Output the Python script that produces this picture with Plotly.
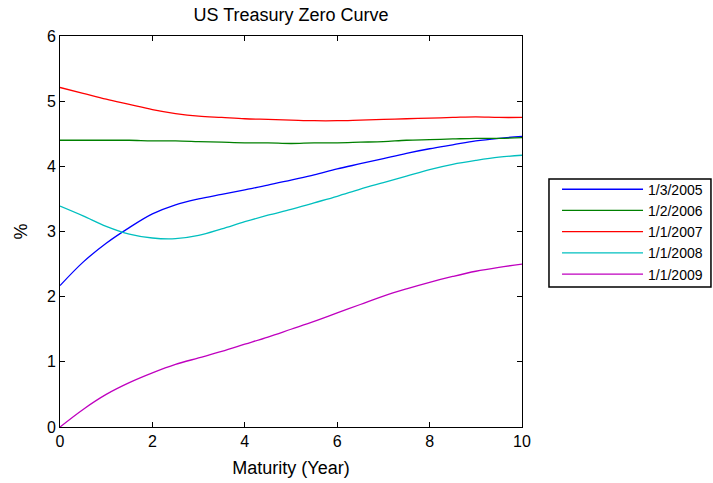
import plotly.graph_objects as go

# Maturities (years) and zero rates (%) for each curve date
maturity = [0, 0.5, 1, 1.5, 2, 2.5, 3, 3.5, 4, 4.5, 5,
            5.5, 6, 6.5, 7, 7.5, 8, 8.5, 9, 9.5, 10]

rates_2005 = [2.17, 2.53, 2.82, 3.06, 3.27, 3.41, 3.50, 3.57, 3.64, 3.71, 3.79,
              3.87, 3.96, 4.04, 4.12, 4.20, 4.27, 4.33, 4.39, 4.43, 4.46]
rates_2006 = [4.40, 4.40, 4.40, 4.40, 4.39, 4.39, 4.38, 4.37, 4.36, 4.36, 4.35,
              4.36, 4.36, 4.37, 4.38, 4.40, 4.41, 4.42, 4.43, 4.43, 4.44]
rates_2007 = [5.21, 5.12, 5.03, 4.95, 4.87, 4.81, 4.77, 4.75, 4.73, 4.72, 4.71,
              4.70, 4.70, 4.71, 4.72, 4.73, 4.74, 4.75, 4.76, 4.75, 4.75]
rates_2008 = [3.39, 3.24, 3.08, 2.96, 2.90, 2.89, 2.94, 3.04, 3.15, 3.25, 3.34,
              3.44, 3.54, 3.65, 3.75, 3.85, 3.95, 4.03, 4.09, 4.14, 4.17]
rates_2009 = [0.00, 0.27, 0.50, 0.68, 0.83, 0.96, 1.06, 1.16, 1.27, 1.38, 1.50,
              1.62, 1.75, 1.88, 2.01, 2.12, 2.22, 2.31, 2.39, 2.45, 2.50]

series_names = ["1/3/2005", "1/2/2006", "1/1/2007", "1/1/2008", "1/1/2009"]
series_values = [rates_2005, rates_2006, rates_2007, rates_2008, rates_2009]
series_colors = ["#0000FF", "#008000", "#FF0000", "#00BFBF", "#BF00BF"]

FONT = "Liberation Sans, Arial, Helvetica, sans-serif"

fig = go.Figure()
for name, vals, col in zip(series_names, series_values, series_colors):
    fig.add_trace(go.Scatter(
        x=maturity, y=vals, name=name, mode="lines",
        line=dict(color=col, width=1.3, shape="spline", smoothing=1.0),
    ))

axis_common = dict(
    showline=True, linecolor="black", linewidth=1, mirror="ticks",
    ticks="inside", ticklen=5, tickcolor="black", tickwidth=1,
    showgrid=False, zeroline=False,
    tickfont=dict(family=FONT, size=16, color="black"),
)

# frame around the legend, a little wider than the legend's own box
fig.add_shape(type="rect", xref="paper", yref="paper",
              x0=1.0584, x1=1.409, y0=0.358, y1=0.634,
              line=dict(color="black", width=1.5), fillcolor="white", layer="below")

fig.update_layout(
    width=713, height=483,
    margin=dict(l=60, r=191, t=36, b=56, autoexpand=False),
    paper_bgcolor="white", plot_bgcolor="white",
    font=dict(family=FONT, color="black"),
    title=dict(text="US Treasury Zero Curve", x=0.5, xref="paper",
               y=1 - 15 / 483, yref="container", yanchor="middle",
               font=dict(family=FONT, size=18, color="black")),
    xaxis=dict(range=[0, 10], dtick=2, tick0=0,
               title=dict(text="Maturity (Year)", standoff=12,
                          font=dict(family=FONT, size=18, color="black")),
               **axis_common),
    yaxis=dict(range=[0, 6], dtick=1, tick0=0,
               title=dict(text="%", standoff=14,
                          font=dict(family=FONT, size=18, color="black")),
               **axis_common),
    legend=dict(x=1.0758, xanchor="left", y=0.648, yanchor="top",
                borderwidth=0, bgcolor="rgba(0,0,0,0)",
                itemwidth=81,
                font=dict(family=FONT, size=14, color="black")),
    showlegend=True,
)

fig.write_html("out.html")
